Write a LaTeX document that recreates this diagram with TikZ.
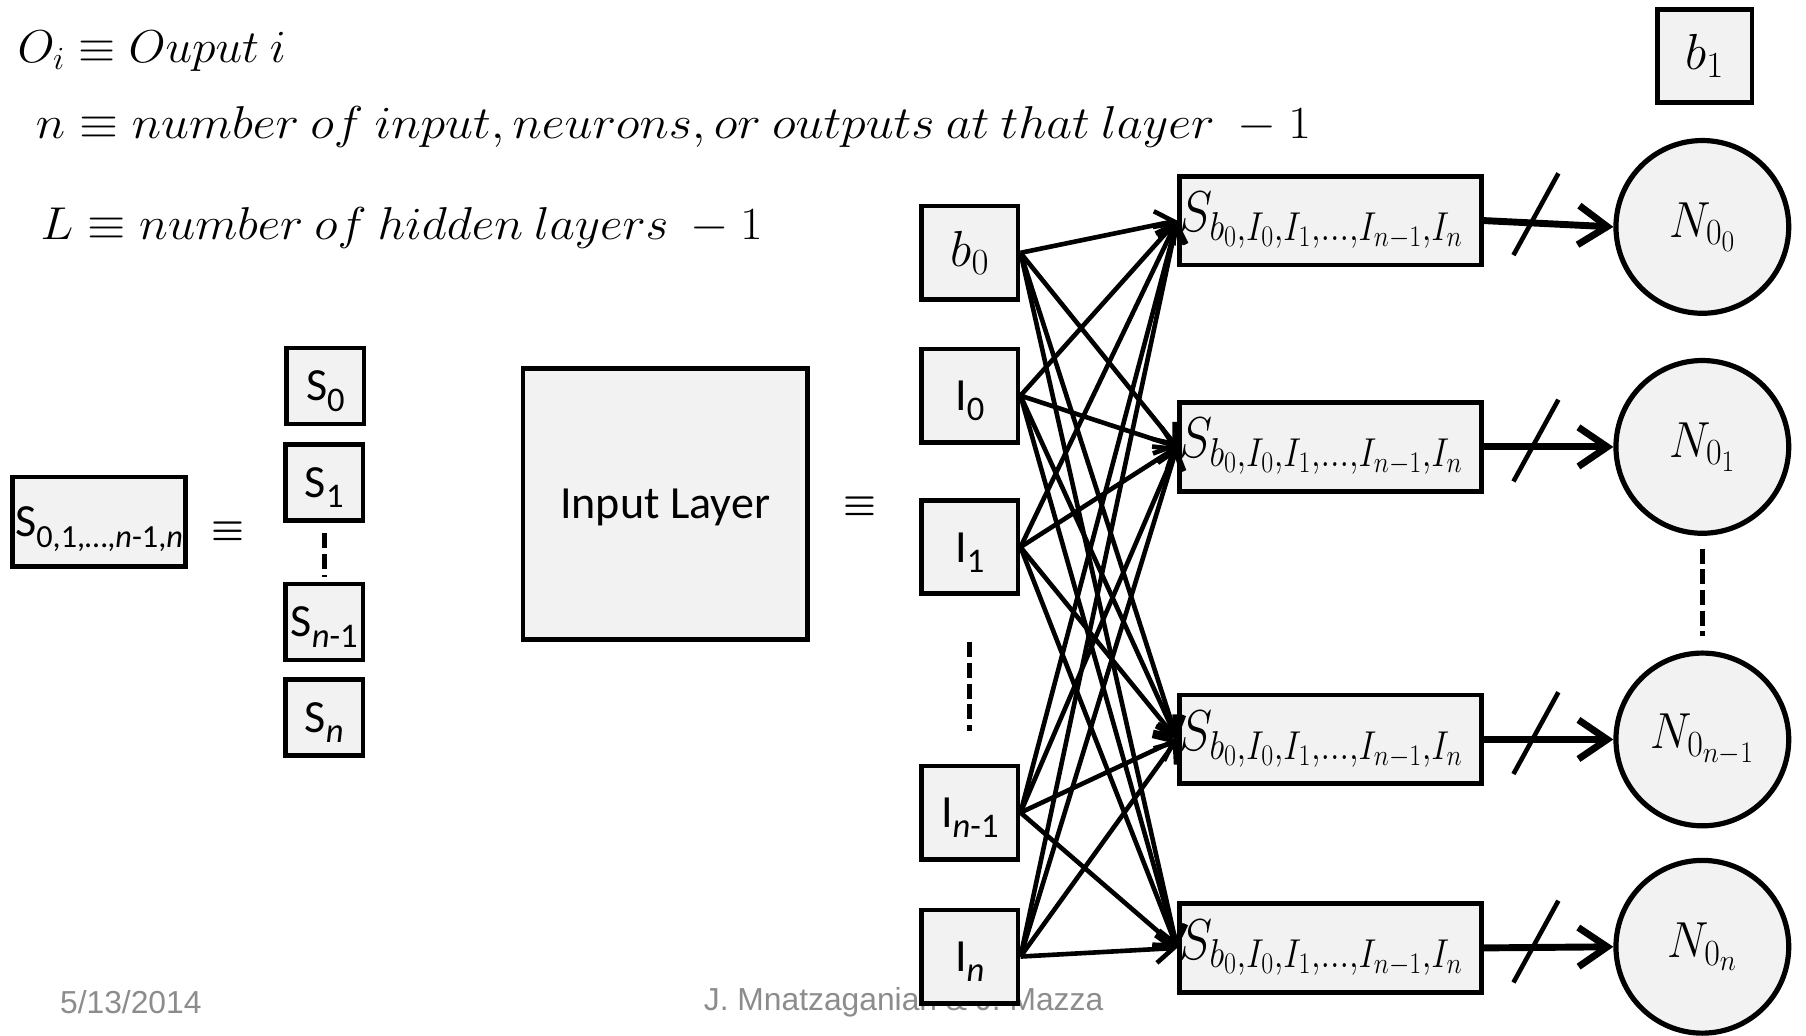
\documentclass[tikz,border=0pt]{standalone}
\usepackage{fix-cm}
\usepackage{graphicx}
\usepackage[no-math]{fontspec}
\setmainfont{Carlito}
\newfontfamily\footfont{Liberation Sans}
\usetikzlibrary{arrows.meta,calc}
\definecolor{boxfill}{HTML}{F2F2F2}
\definecolor{footgray}{HTML}{8C8C8C}
\DeclareMathSizes{44}{44}{32}{26}
\DeclareMathSizes{50}{50}{35}{26}

% lowered subscript in the label font
\newcommand\lowsub[2][30]{\raisebox{-9pt}{\fontsize{#1}{#1}\selectfont #2}}
% slightly condensed math label
\newcommand\narrowmath[1]{\scalebox{0.92}[1]{$#1$}}
% label of a group of synapses
\newcommand\synlabel{\resizebox{246pt}{\height}{$S_{b_0,I_0,I_1,\ldots,I_{n-1},I_n}$}}

\tikzset{
  cell/.style={draw=black, line width=4pt, fill=boxfill, inner sep=0pt,
    font=\fontsize{40}{44}\selectfont, text height=26pt, text depth=0pt},
  mathcell/.style={draw=black, line width=4pt, fill=boxfill, inner sep=0pt,
    font=\fontsize{44}{48}\selectfont},
  inbox/.style={cell, minimum width=84pt, minimum height=81pt},
  sbox/.style={cell, minimum width=67pt, minimum height=66pt},
  sumbox/.style={mathcell, minimum width=262pt, minimum height=77pt,
    text width=262pt, align=left, font=\fontsize{50}{54}\selectfont},
  neuron/.style={circle, draw=black, line width=4.5pt, fill=boxfill,
    minimum size=150pt, inner sep=0pt, font=\fontsize{44}{48}\selectfont},
  link/.style={line width=4pt, -{Straight Barb[length=15pt,width=24pt]}},
  bus/.style={line width=6pt, -{Straight Barb[length=25pt,width=34pt]}},
  slashmark/.style={line width=4pt},
  gap/.style={line width=4.5pt, dash pattern=on 13pt off 5pt},
  note/.style={anchor=base west, inner sep=0pt, font=\fontsize{40}{44}\selectfont},
  equiv/.style={inner sep=0pt, font=\fontsize{32}{36}\selectfont\boldmath},
  foot/.style={text=footgray, inner sep=0pt, font=\footfont\fontsize{27.6}{30}\selectfont},
}

\begin{document}
\begin{tikzpicture}[x=1pt, y=-1pt]
\useasboundingbox (0,0) rectangle (1568,899);

% definitions at the top left
\node[note] (def1) at (15,54) {\resizebox{233pt}{\height}{$O_i \equiv Ouput\ i$}};
\node[note] (def2) at (31,120) {\resizebox{1107pt}{\height}{$n \equiv number\ of\ input,neurons,or\ outputs\ at\ that\ layer\ -1$}};
\node[note] (def3) at (35,208) {\resizebox{627pt}{\height}{$L \equiv number\ of\ hidden\ layers\ -1$}};

% footer
\node[foot, anchor=west] (date) at (52,870) {5/13/2014};
\node[foot] (authors) at (784.5,870) {J. Mnatzaganian \& J. Mazza};
\node[foot] (page) at (1511,870) {6};

% a vector of synapses
\node[cell, minimum width=150pt, minimum height=78pt] (sall) at (86,453)
  {S\lowsub[28]{0,1,…,\textit{n}-1,\textit{n}}};
\node[equiv] (eqa) at (198,461) {$\equiv$};
\node[sbox] (s0) at (282.5,335) {S\lowsub{0}};
\node[sbox] (s1) at (281.5,419) {S\lowsub{1}};
\node[sbox] (sA) at (281.5,540) {S\lowsub{\textit{n}-1}};
\node[sbox] (sB) at (281.5,623) {S\lowsub{\textit{n}}};
\draw[gap] ($(s1.south)+(0,9)$) -- ($(sA.north)+(0,-4)$);

% input layer
\node[cell, minimum width=247pt, minimum height=235pt] (layer) at (577.5,437.5) {Input Layer};
\node[equiv] (eqb) at (746.5,439.5) {$\equiv$};

\node[mathcell, minimum width=84pt, minimum height=81pt] (b0) at (842,219.5) {$b_0$};
\node[inbox] (i0) at (842,343.5) {I\lowsub{0}};
\node[inbox] (i1) at (842,475) {I\lowsub{1}};
\node[inbox] (iA) at (842,705.5) {I\lowsub{\textit{n}-1}};
\node[inbox] (iB) at (842,830.5) {I\lowsub{\textit{n}}};
\draw[gap] ($(i1.south)+(0,40)$) -- ($(iA.north)+(0,-28)$);

% synapse groups
\node[sumbox] (h0) at (1155,191.5) {\synlabel};
\node[sumbox] (h1) at (1155,388) {\synlabel};
\node[sumbox] (h2) at (1155,642) {\synlabel};
\node[sumbox] (h3) at (1155,823) {\synlabel};

% output neurons
\node[mathcell, minimum width=82pt, minimum height=81pt] (b1) at (1480,48.5) {$b_1$};
\node[neuron] (n0) at (1478,197) {\narrowmath{N_{0_0}}};
\node[neuron] (n1) at (1478,388) {\narrowmath{N_{0_1}}};
\node[neuron] (n2) at (1478,642) {\narrowmath{N_{0_{n-1}}}};
\node[neuron] (n3) at (1478,822) {\narrowmath{N_{0_n}}};
\draw[gap] ($(n1.south)+(0,11)$) -- ($(n2.north)+(0,-13)$);

% full connection from every input to every synapse group
\foreach \s in {b0,i0,i1,iA,iB}
  \foreach \t in {h0,h1,h2,h3}
    \draw[link] (\s.east) -- (\t.west);

% buses to the neurons
\foreach \k in {0,1,2,3} {
  \draw[bus] (h\k.east) -- (n\k.west);
  \draw[slashmark] ($(h\k.east)+(26,30)$) -- ($(h\k.east)+(65,-41)$);
}
\end{tikzpicture}
\end{document}
